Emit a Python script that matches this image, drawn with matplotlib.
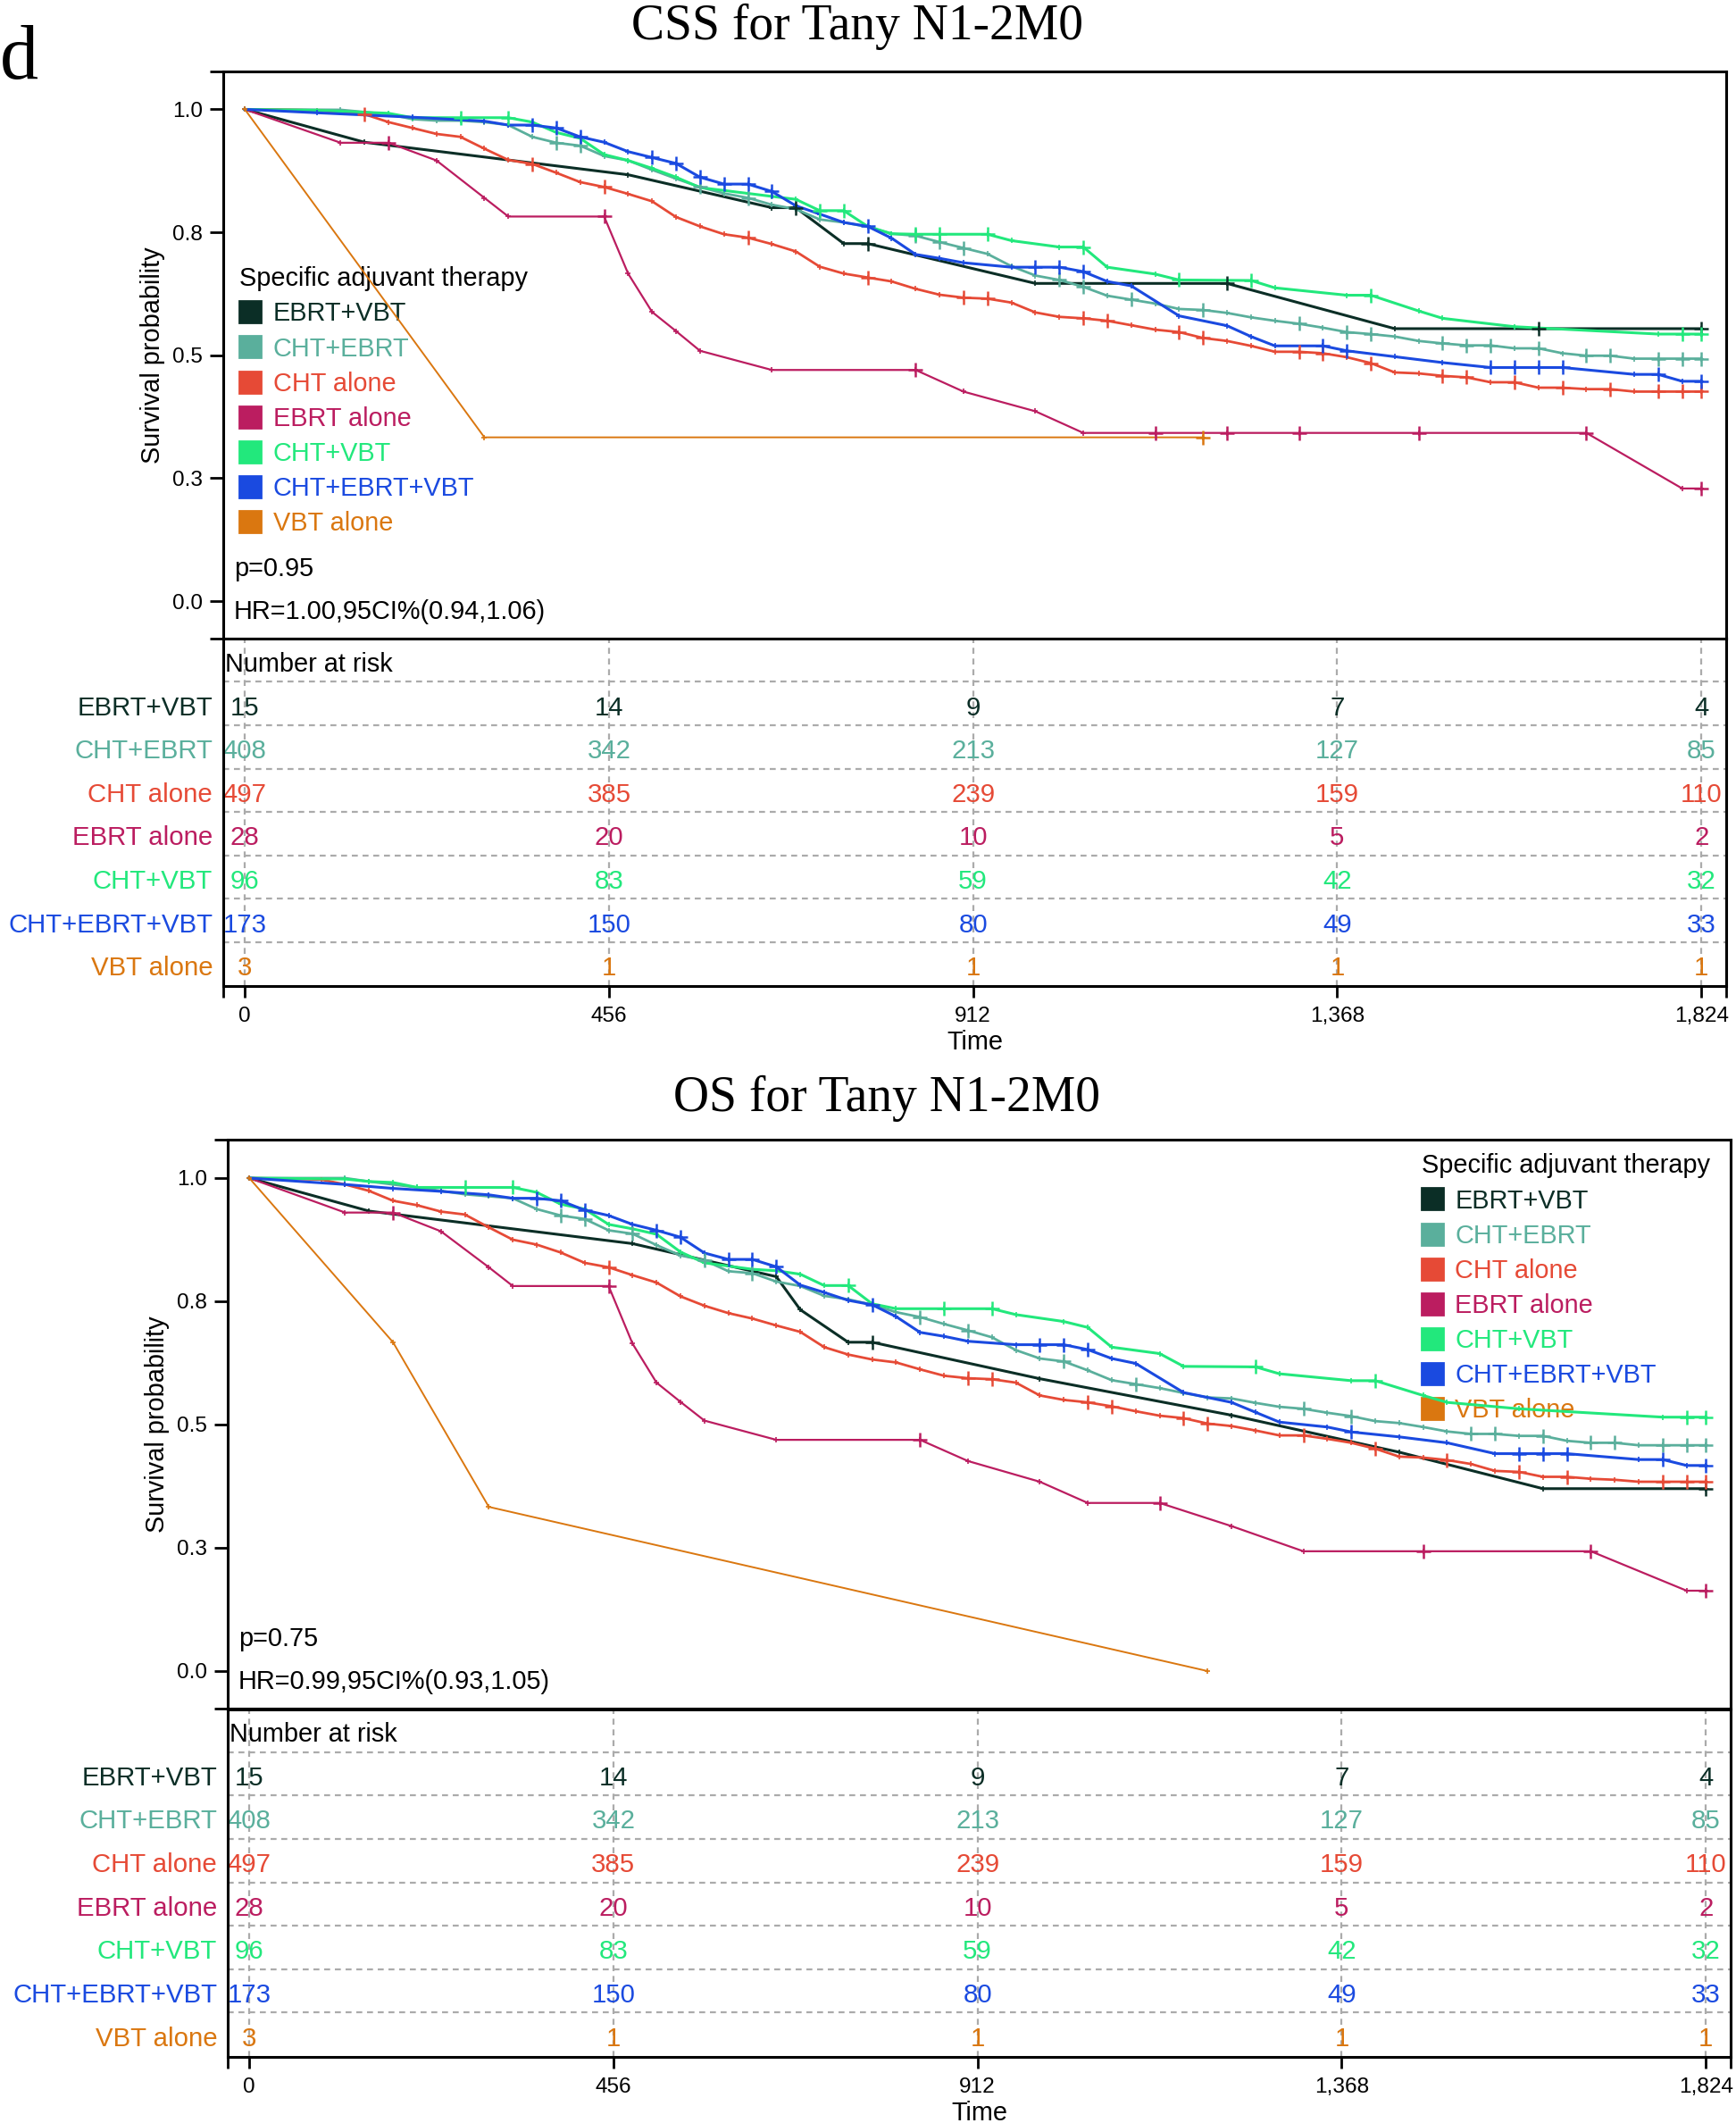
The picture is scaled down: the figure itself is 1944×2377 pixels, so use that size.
import numpy as np
import matplotlib.pyplot as plt
from matplotlib.lines import Line2D

plt.rcParams['font.family'] = ['Liberation Sans', 'DejaVu Sans']

groups = ['EBRT+VBT', 'CHT+EBRT', 'CHT alone', 'EBRT alone',
          'CHT+VBT', 'CHT+EBRT+VBT', 'VBT alone']
colors = ['#0b2e26', '#5aaf9c', '#e64a36', '#bb1d60',
          '#22e87c', '#1a4ae0', '#da7710']
line_w = [1.1, 1.0, 1.0, 0.8, 1.1, 1.1, 0.7]

time_ticks = [0, 456, 912, 1368, 1824]
time_labels = ['0', '456', '912', '1,368', '1,824']
surv_ticks = [0, 0.25, 0.5, 0.75, 1.0]
surv_labels = ['0.0', '0.3', '0.5', '0.8', '1.0']

# number at risk at the time ticks (same in both panels)
risk_ebrt_vbt = [15, 14, 9, 7, 4]
risk_cht_ebrt = [408, 342, 213, 127, 85]
risk_cht = [497, 385, 239, 159, 110]
risk_ebrt = [28, 20, 10, 5, 2]
risk_cht_vbt = [96, 83, 59, 42, 32]
risk_cht_ebrt_vbt = [173, 150, 80, 49, 33]
risk_vbt = [3, 1, 1, 1, 1]

# curves: (30-day interval, survival); *_cens = censored intervals
# ---- CSS ----
css_ebrt_vbt = [(0, 1.0), (5, 0.933), (16, 0.867), (22, 0.80), (23, 0.80), (25, 0.727),
                (26, 0.727), (33, 0.646), (41, 0.646), (48, 0.554), (54, 0.554), (61, 0.554)]
css_ebrt_vbt_cens = [23, 26, 41, 54, 61]

css_cht_ebrt = [(0, 1.0), (4, 0.999), (6, 0.99), (7, 0.980), (8, 0.977), (9, 0.977), (10, 0.974),
                (11, 0.968), (12, 0.944), (13, 0.932), (14, 0.926), (15, 0.905), (16, 0.896),
                (17, 0.877), (18, 0.859), (19, 0.842), (20, 0.829), (21, 0.820), (22, 0.806),
                (23, 0.797), (24, 0.776), (25, 0.770), (26, 0.761), (27, 0.747), (28, 0.743),
                (29, 0.730), (30, 0.718), (31, 0.706), (32, 0.681), (33, 0.662), (34, 0.653),
                (35, 0.639), (36, 0.621), (37, 0.613), (38, 0.605), (39, 0.594), (40, 0.592),
                (41, 0.586), (42, 0.577), (43, 0.570), (44, 0.564), (45, 0.556), (46, 0.547),
                (47, 0.543), (48, 0.538), (49, 0.529), (50, 0.524), (51, 0.520), (52, 0.520),
                (53, 0.514), (54, 0.514), (55, 0.504), (56, 0.499), (57, 0.499), (58, 0.493),
                (59, 0.493), (60, 0.493), (61, 0.493)]
css_cht_ebrt_cens = [13, 14, 19, 21, 28, 29, 30, 34, 35, 37, 40, 44, 46, 47, 50, 51, 52,
                     54, 56, 57, 59, 60, 61]

css_cht = [(0, 1.0), (3, 0.998), (5, 0.99), (6, 0.974), (7, 0.962), (8, 0.950), (9, 0.944),
           (10, 0.920), (11, 0.897), (12, 0.889), (13, 0.871), (14, 0.852), (15, 0.842),
           (16, 0.828), (17, 0.813), (18, 0.781), (19, 0.762), (20, 0.746), (21, 0.739),
           (22, 0.726), (23, 0.711), (24, 0.680), (25, 0.666), (26, 0.658), (27, 0.650),
           (28, 0.635), (29, 0.623), (30, 0.617), (31, 0.615), (32, 0.607), (33, 0.587),
           (34, 0.578), (35, 0.575), (36, 0.570), (37, 0.561), (38, 0.552), (39, 0.547),
           (40, 0.535), (41, 0.529), (42, 0.519), (43, 0.507), (44, 0.507), (45, 0.504),
           (46, 0.496), (47, 0.484), (48, 0.465), (49, 0.463), (50, 0.458), (51, 0.455),
           (52, 0.445), (53, 0.445), (54, 0.434), (55, 0.434), (56, 0.431), (57, 0.431),
           (58, 0.426), (59, 0.426), (60, 0.426), (61, 0.426)]
css_cht_cens = [5, 12, 15, 21, 26, 30, 31, 35, 36, 39, 40, 44, 45, 47, 50, 51, 53, 55,
                57, 59, 60, 61]

css_ebrt = [(0, 1.0), (4, 0.932), (6, 0.932), (8, 0.896), (10, 0.820), (11, 0.782),
            (15, 0.782), (16, 0.666), (17, 0.588), (18, 0.549), (19, 0.509), (22, 0.470),
            (28, 0.470), (30, 0.426), (33, 0.386), (35, 0.342), (38, 0.342), (41, 0.342),
            (44, 0.342), (49, 0.342), (56, 0.342), (60, 0.229), (61, 0.229)]
css_ebrt_cens = [6, 15, 28, 38, 41, 44, 49, 56, 61]

css_cht_vbt = [(0, 1.0), (3, 0.998), (6, 0.992), (7, 0.983), (9, 0.983), (11, 0.983),
               (12, 0.974), (13, 0.953), (14, 0.941), (15, 0.908), (16, 0.896), (17, 0.880),
               (18, 0.862), (19, 0.841), (20, 0.835), (21, 0.829), (22, 0.823), (23, 0.817),
               (24, 0.794), (25, 0.794), (26, 0.762), (27, 0.747), (28, 0.746), (29, 0.746),
               (31, 0.746), (32, 0.733), (34, 0.720), (35, 0.720), (36, 0.679), (38, 0.665),
               (39, 0.653), (42, 0.652), (43, 0.637), (46, 0.622), (47, 0.622), (49, 0.590),
               (50, 0.575), (53, 0.558), (59, 0.543), (60, 0.543), (61, 0.543)]
css_cht_vbt_cens = [9, 11, 24, 25, 28, 29, 31, 35, 39, 42, 47, 60, 61]

css_cht_ebrt_vbt = [(0, 1.0), (3, 0.993), (7, 0.984), (10, 0.976), (11, 0.968), (12, 0.968),
                    (13, 0.962), (14, 0.944), (15, 0.933), (16, 0.914), (17, 0.902),
                    (18, 0.890), (19, 0.862), (20, 0.848), (21, 0.848), (22, 0.833),
                    (23, 0.804), (24, 0.787), (25, 0.770), (26, 0.762), (27, 0.738),
                    (28, 0.705), (29, 0.697), (30, 0.688), (32, 0.679), (33, 0.679),
                    (34, 0.679), (35, 0.670), (36, 0.650), (37, 0.641), (39, 0.580),
                    (41, 0.560), (42, 0.538), (43, 0.519), (45, 0.519), (46, 0.509),
                    (48, 0.497), (50, 0.485), (52, 0.475), (53, 0.475), (54, 0.475),
                    (55, 0.475), (58, 0.461), (59, 0.461), (60, 0.447), (61, 0.447)]
css_cht_ebrt_vbt_cens = [12, 13, 14, 17, 18, 19, 20, 21, 22, 26, 33, 34, 35, 45, 46,
                         52, 53, 54, 55, 59, 61]

css_vbt = [(0, 1.0), (10, 0.333), (40, 0.333)]
css_vbt_cens = [40]

# ---- OS ----
os_ebrt_vbt = [(0, 1.0), (5, 0.933), (16, 0.867), (22, 0.80), (23, 0.733), (25, 0.667),
               (26, 0.667), (33, 0.593), (41, 0.519), (48, 0.444), (54, 0.370), (61, 0.370)]
os_ebrt_vbt_cens = [26, 61]

os_cht_ebrt = [(0, 1.0), (4, 1.0), (5, 0.993), (6, 0.987), (7, 0.981), (8, 0.974), (9, 0.967),
               (10, 0.963), (11, 0.959), (12, 0.937), (13, 0.924), (14, 0.917), (15, 0.894),
               (16, 0.887), (17, 0.864), (18, 0.843), (19, 0.833), (20, 0.811), (21, 0.807),
               (22, 0.790), (23, 0.781), (24, 0.761), (25, 0.754), (26, 0.743), (27, 0.728),
               (28, 0.718), (29, 0.704), (30, 0.691), (31, 0.677), (32, 0.651), (33, 0.634),
               (34, 0.628), (35, 0.610), (36, 0.590), (37, 0.582), (38, 0.574), (39, 0.564),
               (40, 0.555), (41, 0.553), (42, 0.544), (43, 0.536), (44, 0.532), (45, 0.524),
               (46, 0.517), (47, 0.507), (48, 0.503), (49, 0.495), (50, 0.486), (51, 0.481),
               (52, 0.481), (53, 0.477), (54, 0.477), (55, 0.467), (56, 0.463), (57, 0.463),
               (58, 0.458), (59, 0.458), (60, 0.458), (61, 0.458)]
os_cht_ebrt_cens = [13, 14, 16, 19, 21, 28, 30, 34, 37, 44, 46, 51, 52, 54, 56, 57,
                    59, 60, 61]

os_cht = [(0, 1.0), (3, 0.997), (4, 0.987), (5, 0.974), (6, 0.954), (7, 0.945), (8, 0.932),
          (9, 0.926), (10, 0.900), (11, 0.875), (12, 0.865), (13, 0.849), (14, 0.828),
          (15, 0.819), (16, 0.803), (17, 0.788), (18, 0.760), (19, 0.741), (20, 0.726),
          (21, 0.715), (22, 0.701), (23, 0.688), (24, 0.657), (25, 0.642), (26, 0.632),
          (27, 0.626), (28, 0.612), (29, 0.599), (30, 0.594), (31, 0.592), (32, 0.585),
          (33, 0.559), (34, 0.550), (35, 0.545), (36, 0.537), (37, 0.527), (38, 0.518),
          (39, 0.513), (40, 0.502), (41, 0.497), (42, 0.488), (43, 0.478), (44, 0.478),
          (45, 0.471), (46, 0.463), (47, 0.451), (48, 0.435), (49, 0.433), (50, 0.428),
          (51, 0.420), (52, 0.406), (53, 0.404), (54, 0.394), (55, 0.394), (56, 0.390),
          (57, 0.388), (58, 0.384), (59, 0.384), (60, 0.384), (61, 0.384)]
os_cht_cens = [15, 30, 31, 35, 36, 39, 40, 44, 47, 50, 53, 55, 59, 60, 61]

os_ebrt = [(0, 1.0), (4, 0.930), (6, 0.930), (8, 0.892), (10, 0.819), (11, 0.781),
           (15, 0.781), (16, 0.664), (17, 0.585), (18, 0.546), (19, 0.508), (22, 0.469),
           (28, 0.469), (30, 0.426), (33, 0.384), (35, 0.341), (38, 0.341), (41, 0.294),
           (44, 0.243), (49, 0.243), (56, 0.243), (60, 0.163), (61, 0.163)]
os_ebrt_cens = [6, 15, 28, 38, 49, 56, 61]

os_cht_vbt = [(0, 1.0), (4, 0.998), (5, 0.993), (6, 0.991), (7, 0.981), (9, 0.981),
              (11, 0.981), (12, 0.971), (13, 0.947), (14, 0.937), (15, 0.906), (16, 0.897),
              (17, 0.886), (18, 0.850), (19, 0.828), (21, 0.815), (22, 0.812), (23, 0.805),
              (24, 0.782), (25, 0.782), (26, 0.745), (27, 0.735), (29, 0.735), (31, 0.735),
              (32, 0.723), (34, 0.709), (35, 0.697), (36, 0.657), (38, 0.644), (39, 0.618),
              (42, 0.617), (43, 0.603), (46, 0.589), (47, 0.589), (49, 0.559), (50, 0.545),
              (53, 0.532), (59, 0.515), (60, 0.515), (61, 0.515)]
os_cht_vbt_cens = [9, 11, 25, 29, 31, 42, 47, 60, 61]

os_cht_ebrt_vbt = [(0, 1.0), (4, 0.987), (6, 0.979), (8, 0.973), (10, 0.966), (11, 0.959),
                   (12, 0.959), (13, 0.954), (14, 0.935), (15, 0.924), (16, 0.906),
                   (17, 0.894), (18, 0.880), (19, 0.848), (20, 0.835), (21, 0.835),
                   (22, 0.820), (23, 0.783), (24, 0.768), (25, 0.752), (26, 0.743),
                   (27, 0.719), (28, 0.687), (29, 0.679), (30, 0.669), (32, 0.662),
                   (33, 0.662), (34, 0.662), (35, 0.652), (36, 0.634), (37, 0.624),
                   (39, 0.565), (41, 0.545), (42, 0.525), (43, 0.505), (45, 0.495),
                   (46, 0.485), (48, 0.475), (50, 0.463), (52, 0.441), (53, 0.441),
                   (54, 0.441), (55, 0.441), (58, 0.429), (59, 0.429), (60, 0.417), (61, 0.417)]
os_cht_ebrt_vbt_cens = [12, 13, 14, 17, 18, 20, 21, 22, 26, 33, 34, 35, 46, 53, 54, 55, 59, 61]

os_vbt = [(0, 1.0), (6, 0.667), (10, 0.333), (40, 0.0)]
os_vbt_cens = []

risks = [risk_ebrt_vbt, risk_cht_ebrt, risk_cht, risk_ebrt, risk_cht_vbt,
         risk_cht_ebrt_vbt, risk_vbt]
css_curves = [css_ebrt_vbt, css_cht_ebrt, css_cht, css_ebrt, css_cht_vbt, css_cht_ebrt_vbt, css_vbt]
css_cens = [css_ebrt_vbt_cens, css_cht_ebrt_cens, css_cht_cens, css_ebrt_cens,
            css_cht_vbt_cens, css_cht_ebrt_vbt_cens, css_vbt_cens]
os_curves = [os_ebrt_vbt, os_cht_ebrt, os_cht, os_ebrt, os_cht_vbt, os_cht_ebrt_vbt, os_vbt]
os_cens = [os_ebrt_vbt_cens, os_cht_ebrt_cens, os_cht_cens, os_ebrt_cens,
           os_cht_vbt_cens, os_cht_ebrt_vbt_cens, os_vbt_cens]

XMIN, XMAX = -27, 1855
YMIN, YMAX = -0.077, 1.077
FS = 10.4


def to_days(k):
    # 30-day intervals, last point is the end of follow-up
    return np.minimum(np.asarray(k) * 30, 1824)


def draw_panel(fig, main_rect, table_rect, curves, cens, legend_xy, p_txt, hr_txt):
    ax = fig.add_axes(main_rect)
    for i, curve in enumerate(curves):
        k, s = zip(*curve)
        ax.plot(to_days(k), s, color=colors[i], lw=line_w[i], marker='+', ms=2.4,
                mew=0.6, zorder=3 + i * 0.01)
        s_of = dict(curve)
        if cens[i]:
            ax.plot(to_days(cens[i]), [s_of[c] for c in cens[i]], ls='none', marker='+',
                    ms=5.5, mew=0.9, color=colors[i], zorder=3.5 + i * 0.01)
    ax.set_xlim(XMIN, XMAX)
    ax.set_ylim(YMIN, YMAX)
    ax.set_yticks([YMIN] + surv_ticks + [YMAX])
    ax.set_yticklabels([''] + surv_labels + [''])
    ax.set_xticks([])
    ax.tick_params(axis='y', direction='out', length=5.4, width=1.0, pad=2.9, labelsize=8.8)
    for sp in ax.spines.values():
        sp.set_linewidth(1.1)
    ax.text(-0.047, 0.5, 'Survival probability', rotation=90, ha='center', va='center',
            fontsize=FS, transform=ax.transAxes)

    handles = [Line2D([], [], ls='none', marker='s', ms=8.4, color=c) for c in colors]
    leg = ax.legend(handles, groups, title='Specific adjuvant therapy', loc='upper left',
                    bbox_to_anchor=legend_xy, frameon=False, fontsize=FS,
                    title_fontsize=FS, labelcolor=colors, alignment='left',
                    handlelength=0.85, handletextpad=0.45, labelspacing=0.385,
                    borderpad=0, borderaxespad=0)
    leg.set_zorder(1)

    ax.text(0.0071, 0.1236, p_txt, fontsize=FS, va='center', ha='left', transform=ax.transAxes)
    ax.text(0.0071, 0.0478, hr_txt, fontsize=FS, va='center', ha='left', transform=ax.transAxes)

    # number at risk table
    tb = fig.add_axes(table_rect)
    tb.set_xlim(XMIN, XMAX)
    tb.set_ylim(0, 8)
    for sp in tb.spines.values():
        sp.set_linewidth(1.1)
    tb.set_yticks([])
    tb.set_xticks([XMIN] + time_ticks + [XMAX])
    tb.set_xticklabels([''] + time_labels + [''])
    tb.tick_params(axis='x', direction='out', length=4.7, width=1.0, pad=3.6, labelsize=8.8)
    grid_kw = dict(color='#ababab', lw=0.8, dashes=(3, 2.4), zorder=0)
    for i in range(7):
        tb.axhline(7.01 - i, **grid_kw)
    for t in time_ticks:
        tb.axvline(t, **grid_kw)
    tb.text(0.001, 7.42, 'Number at risk', fontsize=FS, ha='left', va='center',
            transform=tb.get_yaxis_transform())
    for i, g in enumerate(groups):
        y = 6.41 - i
        tb.text(-0.007, y, g, color=colors[i], fontsize=10.6, ha='right', va='center',
                transform=tb.get_yaxis_transform())
        for t, n in zip(time_ticks, risks[i]):
            tb.text(t, y, str(n), color=colors[i], fontsize=10.6, ha='center', va='center',
                    zorder=2)
    tb.text(0.5, -0.162, 'Time', fontsize=FS, ha='center', va='center',
            transform=tb.transAxes)
    return ax, tb


fig = plt.figure(figsize=(9.72, 11.885), dpi=200)

fig.text(0.0, 1 - 88 / 2377, 'd', family='Liberation Serif', fontsize=31,
         ha='left', va='baseline')
fig.text(0.494, 0.9815, 'CSS for Tany N1-2M0', family='Liberation Serif',
         fontsize=20, ha='center', va='baseline')
fig.text(0.511, 0.4765, 'OS for Tany N1-2M0', family='Liberation Serif',
         fontsize=20, ha='center', va='baseline')

draw_panel(fig, [0.1286, 0.69903, 0.8657, 0.26731], [0.1286, 0.53555, 0.8657, 0.16348],
           css_curves, css_cens, (0.0107, 0.6565), 'p=0.95', 'HR=1.00,95CI%(0.94,1.06)')
draw_panel(fig, [0.13117, 0.19500, 0.8657, 0.26798], [0.13117, 0.03134, 0.8657, 0.16365],
           os_curves, os_cens, (0.7944, 0.9765), 'p=0.75', 'HR=0.99,95CI%(0.93,1.05)')

fig.savefig('out.png', dpi=200)
